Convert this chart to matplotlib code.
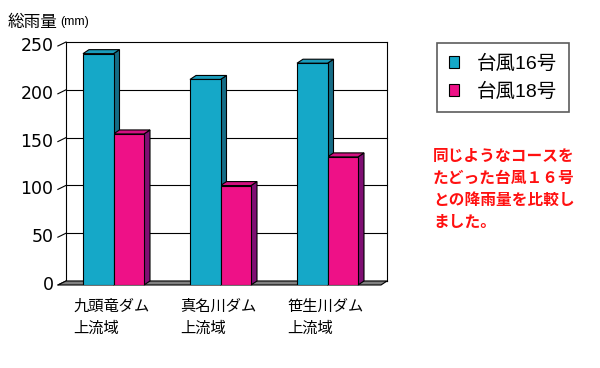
import matplotlib
matplotlib.use("Agg")
import matplotlib.pyplot as plt
from matplotlib.patches import Polygon
import numpy as np

plt.rcParams['font.family'] = ['Liberation Sans', 'Noto Sans CJK JP', 'DejaVu Sans']

categories = ["九頭竜ダム\n上流域", "真名川ダム\n上流域", "笹生川ダム\n上流域"]
series_names = ["台風16号", "台風18号"]
typhoon16 = [242, 215, 232]
typhoon18 = [158, 104, 134]
yticks = [0, 50, 100, 150, 200, 250]

front_cols = ["#15A8C8", "#EE1187"]
side_cols = ["#156C86", "#7F0F73"]
top_cols = ["#1A9CBB", "#D31080"]

W, H = 600, 368
fig = plt.figure(figsize=(W / 100, H / 100), dpi=100)
ax = fig.add_axes([60 / W, (H - 285) / H, 321 / W, (285 - 46) / H])
ax.set_xlim(-0.5, 2.5)
ax.set_ylim(0, 250)
for s in ax.spines.values():
    s.set_visible(False)
ax.set_xticks([])
ax.set_yticks([])

# depth in data units
dx = 6 / 107
dy = 4 * 250 / 239
x0, x1 = -0.5, 2.5

# back wall gridlines and frame
for t in yticks:
    ax.plot([x0 + dx, x1 + dx], [t + dy, t + dy], color="black", lw=0.8, clip_on=False, zorder=1)
    ax.plot([x0 - 0.02, x0 + dx], [t, t + dy], color="black", lw=0.8, clip_on=False, zorder=1)
    ax.text(x0 - 0.06, t, str(t), ha="right", va="center", fontsize=12.5, family="DejaVu Sans")
ax.plot([x0 + dx, x0 + dx], [dy, 250 + dy], color="black", lw=0.8, clip_on=False)
ax.plot([x1 + dx, x1 + dx], [dy, 250 + dy], color="black", lw=0.8, clip_on=False)
# floor
ax.add_patch(Polygon([[x0 - 0.02, 0], [x1, 0], [x1 + dx, dy], [x0 + dx, dy]], closed=True,
                     facecolor="#808080", edgecolor="black", lw=0.8, clip_on=False, zorder=2))

x = np.arange(len(categories))
bw = 0.285
handles = []
for i, vals in enumerate([typhoon16, typhoon18]):
    offs = -bw / 2 if i == 0 else bw / 2
    bars = ax.bar(x + offs, vals, width=bw, color=front_cols[i], edgecolor="black",
                  lw=0.8, zorder=5, label=series_names[i])
    handles.append(bars)
    for xc, v in zip(x + offs, vals):
        l, r = xc - bw / 2, xc + bw / 2
        ax.add_patch(Polygon([[r, 0], [r + dx, dy], [r + dx, v + dy], [r, v]], closed=True,
                             facecolor=side_cols[i], edgecolor="black", lw=0.8, zorder=4, clip_on=False))
        ax.add_patch(Polygon([[l, v], [r, v], [r + dx, v + dy], [l + dx, v + dy]], closed=True,
                             facecolor=top_cols[i], edgecolor="black", lw=0.8, zorder=4, clip_on=False))

for xc, lab in zip(x, categories):
    ax.text(xc - 0.375, -13, lab, ha="left", va="top", fontsize=11,
            family=["Noto Sans CJK JP"], linespacing=1.45)

fig.text(8 / W, 1 - 22 / H, "総雨量", fontsize=12, ha="left", va="center", family=["Noto Sans CJK JP"])
fig.text(60 / W, 1 - 22 / H, "(mm)", fontsize=9, ha="left", va="center")

leg = fig.legend(handles=handles, labels=series_names, loc="upper left",
                 bbox_to_anchor=(437 / W, 1 - 43 / H), frameon=True,
                 fancybox=False, handlelength=0.55, handleheight=0.55, handletextpad=0.9,
                 borderpad=0.6, labelspacing=0.5, borderaxespad=0,
                 prop={"family": ["Liberation Sans", "Noto Sans CJK JP"], "size": 14})
leg.get_frame().set_edgecolor("#333333")
leg.get_frame().set_linewidth(1.2)

fig.text(433 / W, 1 - 148 / H,
         "同じようなコースを\nたどった台風１６号\nとの降雨量を比較し\nました。",
         color="#FF1010", fontsize=11.3, fontweight="bold", ha="left", va="top", linespacing=1.45,
         family=["Noto Sans CJK JP"])

fig.savefig("out.png", dpi=100)
